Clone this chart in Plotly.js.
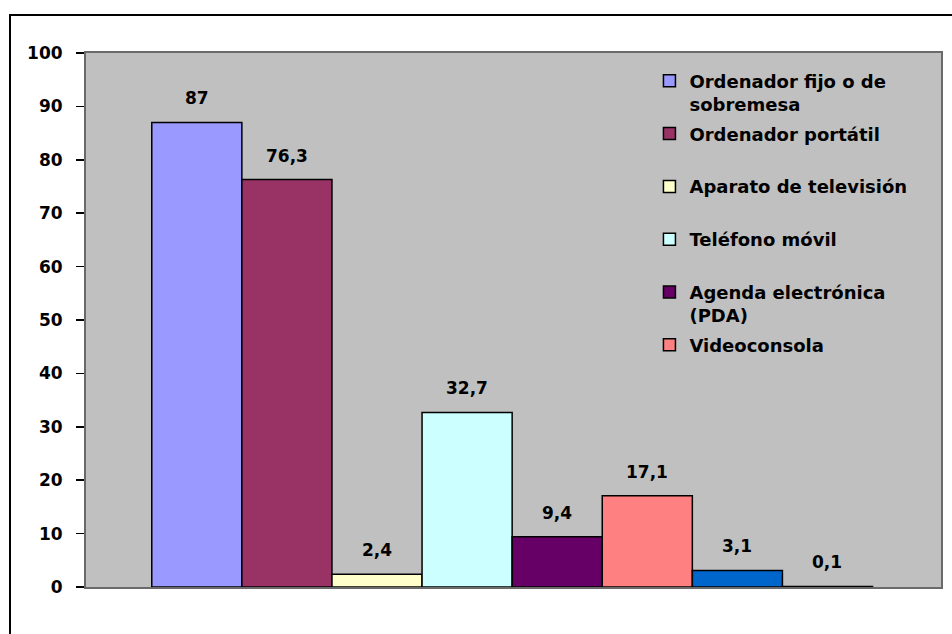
<!DOCTYPE html>
<html>
<head>
<meta charset="utf-8">
<script src="https://cdn.plot.ly/plotly-3.0.1.min.js"></script>
<style>
  html, body { margin: 0; padding: 0; background: #fff; }
  #wrap { position: relative; width: 952px; height: 634px; overflow: hidden; }
  #chart { width: 952px; height: 634px; }
  #frame { position: absolute; left: 9px; top: 14px; width: 960px; height: 640px;
           border-left: 2px solid #000; border-top: 2px solid #000; pointer-events: none; }
</style>
</head>
<body>
<div id="wrap">
  <div id="chart"></div>
  <div id="frame"></div>
</div>
<script>
// Series (one bar each)
const seriesNames = [
  "Ordenador fijo o de<br>sobremesa",
  "Ordenador portátil",
  "Aparato de televisión",
  "Teléfono móvil",
  "Agenda electrónica<br>(PDA)",
  "Videoconsola",
  "Otros",
  "Otros (2)"
];
const seriesValues = [87, 76.3, 2.4, 32.7, 9.4, 17.1, 3.1, 0.1];
const seriesColors = ["#9999FF", "#993366", "#FFFFCC", "#CCFFFF", "#660066", "#FF8080", "#0066CC", "#CCCCFF"];
const showInLegend = [true, true, true, true, true, true, false, false];
const yTickValues = [0, 10, 20, 30, 40, 50, 60, 70, 80, 90, 100];

const FONT = "DejaVu Sans, Verdana, sans-serif";

const traces = seriesNames.map((name, i) => ({
  type: "bar",
  x: [i],
  y: [seriesValues[i]],
  width: 1,
  name: name.indexOf("<br>") >= 0 ? name : name + "<br> ",
  legendgroup: "g" + i,
  showlegend: showInLegend[i],
  marker: { color: seriesColors[i], line: { color: "#000", width: 1.5 } },
  hoverinfo: "skip"
}));

const annotations = seriesValues.map((v, i) => ({
  x: i, y: v, xref: "x", yref: "y",
  text: String(v).replace(".", ","),
  showarrow: false,
  yanchor: "middle",
  yshift: 24,
  font: { family: FONT, size: 17, color: "#000", weight: "bold" }
}));

const layout = {
  width: 952, height: 634,
  margin: { l: 86, r: 11, t: 53, b: 47 },
  paper_bgcolor: "#fff",
  plot_bgcolor: "#C0C0C0",
  barmode: "overlay",
  showlegend: true,
  legend: {
    x: 0.659, xanchor: "left",
    y: 0.982, yanchor: "top",
    bgcolor: "rgba(0,0,0,0)",
    valign: "top",
    tracegroupgap: 3,
    traceorder: "grouped",
    font: { family: FONT, size: 18, color: "#000", weight: "bold" }
  },
  xaxis: {
    range: [-1.23, 8.26],
    showticklabels: false,
    ticks: "",
    showgrid: false,
    zeroline: false,
    showline: true, mirror: true, linecolor: "#6a6a6a", linewidth: 2,
    fixedrange: true
  },
  yaxis: {
    range: [0, 100],
    tickvals: yTickValues,
    ticktext: yTickValues.map(String),
    ticks: "outside", ticklen: 8, tickwidth: 1.5, tickcolor: "#000",
    ticklabelstandoff: 10,
    showgrid: false,
    zeroline: false,
    showline: true, mirror: true, linecolor: "#6a6a6a", linewidth: 2,
    tickfont: { family: FONT, size: 17, color: "#000", weight: "bold" },
    fixedrange: true
  },
  annotations: annotations
};

Plotly.newPlot("chart", traces, layout, { displayModeBar: false, staticPlot: true });
</script>
</body>
</html>
